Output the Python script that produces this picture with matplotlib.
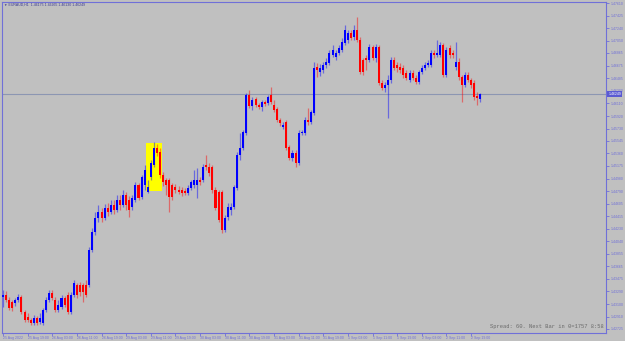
import matplotlib
matplotlib.use("Agg")
import matplotlib.pyplot as plt
from matplotlib.patches import Rectangle
import matplotlib.transforms as mtransforms

# ---------------- data (EURAUD, H1) ----------------
opens = [1.43205, 1.43235, 1.43160, 1.43130, 1.43115, 1.43160, 1.43205, 1.42980, 1.42905, 1.42860,
         1.42815, 1.42890, 1.42830, 1.42815, 1.43010, 1.43160, 1.43265, 1.43160, 1.43010, 1.43055,
         1.43190, 1.43235, 1.42980, 1.43235, 1.43385, 1.43385, 1.43385, 1.43385, 1.43385, 1.43910,
         1.44180, 1.44390, 1.44480, 1.44390, 1.44540, 1.44480, 1.44585, 1.44510, 1.44660, 1.44585,
         1.44735, 1.44660, 1.44555, 1.44660, 1.44885, 1.44705, 1.44885, 1.44780, 1.45005, 1.45185,
         1.45440, 1.45380, 1.45035, 1.44960, 1.44960, 1.44885, 1.44855, 1.44810, 1.44810, 1.44795,
         1.44765, 1.44840, 1.44885, 1.44885, 1.44960, 1.44960, 1.45185, 1.45155, 1.45155, 1.44810,
         1.44780, 1.44780, 1.44210, 1.44405, 1.44510, 1.44555, 1.44840, 1.45335, 1.45440, 1.45665,
         1.46235, 1.46070, 1.46175, 1.46085, 1.46055, 1.46130, 1.46115, 1.46235, 1.46085, 1.46025,
         1.45860, 1.45755, 1.45830, 1.45455, 1.45290, 1.45365, 1.45215, 1.45665, 1.45665, 1.45860,
         1.45830, 1.45965, 1.46655, 1.46580, 1.46610, 1.46685, 1.46715, 1.46835, 1.46805, 1.46865,
         1.46910, 1.47015, 1.47060, 1.47165, 1.47105, 1.47210, 1.47060, 1.46760, 1.46790, 1.46760,
         1.46955, 1.46790, 1.46955, 1.46415, 1.46340, 1.46385, 1.46460, 1.46760, 1.46685, 1.46655,
         1.46640, 1.46565, 1.46460, 1.46565, 1.46490, 1.46430, 1.46580, 1.46640, 1.46685, 1.46685,
         1.46865, 1.46835, 1.46835, 1.46985, 1.46535, 1.46940, 1.46865, 1.46655, 1.46730, 1.46505,
         1.46385, 1.46535, 1.46460, 1.46415, 1.46220, 1.46175]
closes = [1.43235, 1.43160, 1.43040, 1.43040, 1.43160, 1.43205, 1.42980, 1.42860, 1.42860, 1.42815,
          1.42890, 1.42815, 1.42890, 1.43010, 1.43160, 1.43265, 1.43190, 1.43010, 1.43085, 1.43190,
          1.43085, 1.42980, 1.43235, 1.43415, 1.43235, 1.43280, 1.43280, 1.43235, 1.43910, 1.44180,
          1.44390, 1.44480, 1.44390, 1.44540, 1.44480, 1.44585, 1.44510, 1.44660, 1.44585, 1.44735,
          1.44585, 1.44510, 1.44690, 1.44885, 1.44690, 1.45005, 1.45110, 1.44855, 1.45215, 1.45440,
          1.45365, 1.45035, 1.44930, 1.44885, 1.44705, 1.44705, 1.44810, 1.44780, 1.44765, 1.44765,
          1.44840, 1.44930, 1.44960, 1.44960, 1.44930, 1.45155, 1.45155, 1.45065, 1.44810, 1.44540,
          1.44360, 1.44210, 1.44390, 1.44555, 1.44555, 1.44855, 1.45335, 1.45440, 1.45680, 1.46235,
          1.46070, 1.46160, 1.46085, 1.46055, 1.46130, 1.46100, 1.46205, 1.46130, 1.46010, 1.45860,
          1.45815, 1.45785, 1.45440, 1.45290, 1.45365, 1.45215, 1.45665, 1.45680, 1.45860, 1.45830,
          1.45980, 1.46640, 1.46610, 1.46640, 1.46685, 1.46730, 1.46865, 1.46910, 1.46865, 1.46940,
          1.47030, 1.47210, 1.47165, 1.47090, 1.47210, 1.47060, 1.46580, 1.46580, 1.46760, 1.46955,
          1.46790, 1.46955, 1.46415, 1.46340, 1.46385, 1.46460, 1.46760, 1.46640, 1.46640, 1.46610,
          1.46535, 1.46490, 1.46565, 1.46490, 1.46430, 1.46580, 1.46640, 1.46685, 1.46715, 1.46865,
          1.46835, 1.46865, 1.46985, 1.46535, 1.46910, 1.46835, 1.46835, 1.46730, 1.46505, 1.46385,
          1.46535, 1.46460, 1.46385, 1.46205, 1.46190, 1.46249]
highs = [1.43310, 1.43295, 1.43205, 1.43160, 1.43190, 1.43250, 1.43235, 1.43010, 1.42965, 1.42890,
         1.42935, 1.42920, 1.42965, 1.43040, 1.43205, 1.43310, 1.43310, 1.43205, 1.43160, 1.43235,
         1.43220, 1.43280, 1.43280, 1.43460, 1.43415, 1.43430, 1.43415, 1.43460, 1.43955, 1.44240,
         1.44480, 1.44585, 1.44540, 1.44600, 1.44615, 1.44660, 1.44660, 1.44735, 1.44735, 1.44810,
         1.44780, 1.44720, 1.44735, 1.44930, 1.44915, 1.45035, 1.45185, 1.44960, 1.45260, 1.45530,
         1.45500, 1.45440, 1.45080, 1.44990, 1.44990, 1.44915, 1.44900, 1.44870, 1.44855, 1.44840,
         1.44885, 1.44960, 1.45110, 1.45140, 1.45005, 1.45200, 1.45335, 1.45215, 1.45185, 1.44855,
         1.44810, 1.44810, 1.44435, 1.44615, 1.44615, 1.44885, 1.45380, 1.45665, 1.45710, 1.46265,
         1.46310, 1.46205, 1.46205, 1.46115, 1.46160, 1.46160, 1.46235, 1.46355, 1.46160, 1.46055,
         1.45890, 1.45830, 1.45860, 1.45485, 1.45410, 1.45410, 1.45710, 1.45710, 1.45905, 1.46040,
         1.46010, 1.46730, 1.46715, 1.46700, 1.46730, 1.46790, 1.46910, 1.46985, 1.46910, 1.46985,
         1.47090, 1.47285, 1.47210, 1.47210, 1.47285, 1.47405, 1.47105, 1.46790, 1.46835, 1.47000,
         1.46985, 1.47000, 1.46985, 1.46460, 1.46430, 1.46535, 1.46805, 1.46805, 1.46730, 1.46715,
         1.46685, 1.46610, 1.46610, 1.46610, 1.46535, 1.46610, 1.46685, 1.46730, 1.46760, 1.46910,
         1.46910, 1.47060, 1.47030, 1.47015, 1.46955, 1.46985, 1.46910, 1.47030, 1.46790, 1.46535,
         1.46580, 1.46580, 1.46490, 1.46460, 1.46280, 1.46265]
lows = [1.43055, 1.43130, 1.43010, 1.42995, 1.43070, 1.43130, 1.42950, 1.42830, 1.42830, 1.42785,
        1.42785, 1.42785, 1.42800, 1.42785, 1.42980, 1.43130, 1.43160, 1.42980, 1.42980, 1.43025,
        1.43055, 1.42950, 1.42950, 1.43205, 1.43190, 1.43220, 1.43130, 1.43205, 1.43355, 1.43880,
        1.44135, 1.44330, 1.44330, 1.44360, 1.44420, 1.44450, 1.44450, 1.44480, 1.44510, 1.44555,
        1.44510, 1.44405, 1.44510, 1.44630, 1.44660, 1.44675, 1.44810, 1.44765, 1.44960, 1.45155,
        1.45320, 1.44990, 1.44870, 1.44735, 1.44480, 1.44660, 1.44765, 1.44750, 1.44720, 1.44735,
        1.44735, 1.44810, 1.44840, 1.44690, 1.44885, 1.44930, 1.45110, 1.45020, 1.44765, 1.44510,
        1.44330, 1.44165, 1.44180, 1.44360, 1.44435, 1.44525, 1.44810, 1.45260, 1.45410, 1.45635,
        1.46040, 1.46010, 1.46055, 1.46025, 1.45995, 1.46070, 1.46085, 1.46100, 1.45980, 1.45830,
        1.45770, 1.45725, 1.45410, 1.45260, 1.45245, 1.45155, 1.45185, 1.45635, 1.45635, 1.45785,
        1.45800, 1.45935, 1.46505, 1.46520, 1.46565, 1.46640, 1.46685, 1.46805, 1.46760, 1.46835,
        1.46880, 1.46985, 1.47015, 1.47060, 1.47060, 1.47030, 1.46550, 1.46535, 1.46610, 1.46730,
        1.46760, 1.46730, 1.46385, 1.46310, 1.46280, 1.45890, 1.46415, 1.46610, 1.46580, 1.46565,
        1.46490, 1.46460, 1.46430, 1.46460, 1.46400, 1.46400, 1.46550, 1.46610, 1.46655, 1.46655,
        1.46790, 1.46805, 1.46805, 1.46505, 1.46505, 1.46790, 1.46790, 1.46610, 1.46460, 1.46130,
        1.46355, 1.46430, 1.46340, 1.46160, 1.46085, 1.46130]

time_labels = ["25 Aug 2022", "25 Aug 19:00", "26 Aug 03:00", "26 Aug 11:00", "26 Aug 19:00",
               "29 Aug 03:00", "29 Aug 11:00", "29 Aug 19:00", "30 Aug 03:00", "30 Aug 11:00",
               "30 Aug 19:00", "31 Aug 03:00", "31 Aug 11:00", "31 Aug 19:00", "1 Sep 03:00",
               "1 Sep 11:00", "1 Sep 19:00", "2 Sep 03:00", "2 Sep 11:00", "2 Sep 19:00"]
bars_per_label = 8

price_ticks = [1.47610, 1.47425, 1.47240, 1.47050, 1.46865, 1.46675, 1.46485, 1.46300, 1.46110,
               1.45920, 1.45730, 1.45545, 1.45360, 1.45175, 1.44980, 1.44790, 1.44605, 1.44415,
               1.44230, 1.44040, 1.43855, 1.43665, 1.43475, 1.43290, 1.43100, 1.42910, 1.42725]

highlight_bars = (47, 51)
highlight_prices = (1.44795, 1.45515)

symbol = "EURAUD,H1"
status_text = "Spread: 60. Next Bar in 0=1757 8:58"

# ---------------- style ----------------
BG = "#c0c0c0"
FG = "#7070d8"
UP = "#0000ff"
DN = "#ff0000"
SMALL = 2.5
FONT = ["Liberation Sans", "DejaVu Sans"]

W, H = 625, 341
fig = plt.figure(figsize=(W / 100, H / 100), dpi=100, facecolor=BG)
ax = fig.add_axes([2 / W, 8 / H, 604 / W, 331 / H], facecolor=BG)

n = len(closes)
xs = list(range(n))

# highlight rectangle (drawn under candles)
ax.add_patch(Rectangle((highlight_bars[0] - 0.55, highlight_prices[0]),
                       highlight_bars[1] - highlight_bars[0] + 1.1,
                       highlight_prices[1] - highlight_prices[0],
                       facecolor="#ffff00", edgecolor="none", zorder=1))

for i in xs:
    o, c, hi, lo = opens[i], closes[i], highs[i], lows[i]
    col = UP if c >= o else DN
    ax.vlines(i, lo, hi, color=col, alpha=0.45, lw=0.9, zorder=2)
    bottom = min(o, c)
    height = max(abs(c - o), 0.00012)
    ax.bar(i, height, bottom=bottom, width=0.66, color=col, edgecolor="none", zorder=3)

last = closes[-1]
ax.axhline(last, color="#8c96b2", lw=0.8, zorder=1.5)

ax.set_xlim(-0.325, 195.8)
ax.set_ylim(1.42665, 1.47630)

# axes frame
for s in ax.spines.values():
    s.set_color(FG)
    s.set_linewidth(0.8)

# right price scale
ax.yaxis.tick_right()
ax.set_yticks(price_ticks)
ax.set_yticklabels([f"{v:.5f}" for v in price_ticks], family=FONT)
ax.tick_params(axis="y", colors=FG, labelsize=SMALL, length=2, width=0.6, pad=1.2)

# bottom time scale
label_pos = [k * bars_per_label for k in range(len(time_labels))]
ax.set_xticks(label_pos)
ax.set_xticklabels(time_labels, family=FONT)
for t in ax.get_xticklabels():
    t.set_horizontalalignment("left")
ax.tick_params(axis="x", colors=FG, labelsize=SMALL, length=2, width=0.6, pad=0.5)

# current price box
trans = mtransforms.blended_transform_factory(ax.transAxes, ax.transData)
ax.text(1.004, last, f"{last:.5f}", transform=trans, fontsize=SMALL, color="white",
        family=FONT, va="center", ha="left", zorder=10,
        bbox=dict(boxstyle="square,pad=0.3", facecolor="#5a5ad2", edgecolor="none"),
        clip_on=False)

# title and status
fig.text(4 / W, 1 - 5 / H,
         f"\u25bc {symbol}  {opens[-1]:.5f} {highs[-1]:.5f} {lows[-1]:.5f} {closes[-1]:.5f}",
         fontsize=SMALL, family=FONT, color="#3a3a90", va="center", ha="left")
ax.text(0.997, 0.012, status_text, transform=ax.transAxes, fontsize=3.9,
        family="Liberation Mono", color="#6a6a6a", ha="right", va="bottom")

fig.savefig("out.png", dpi=100, facecolor=BG)
